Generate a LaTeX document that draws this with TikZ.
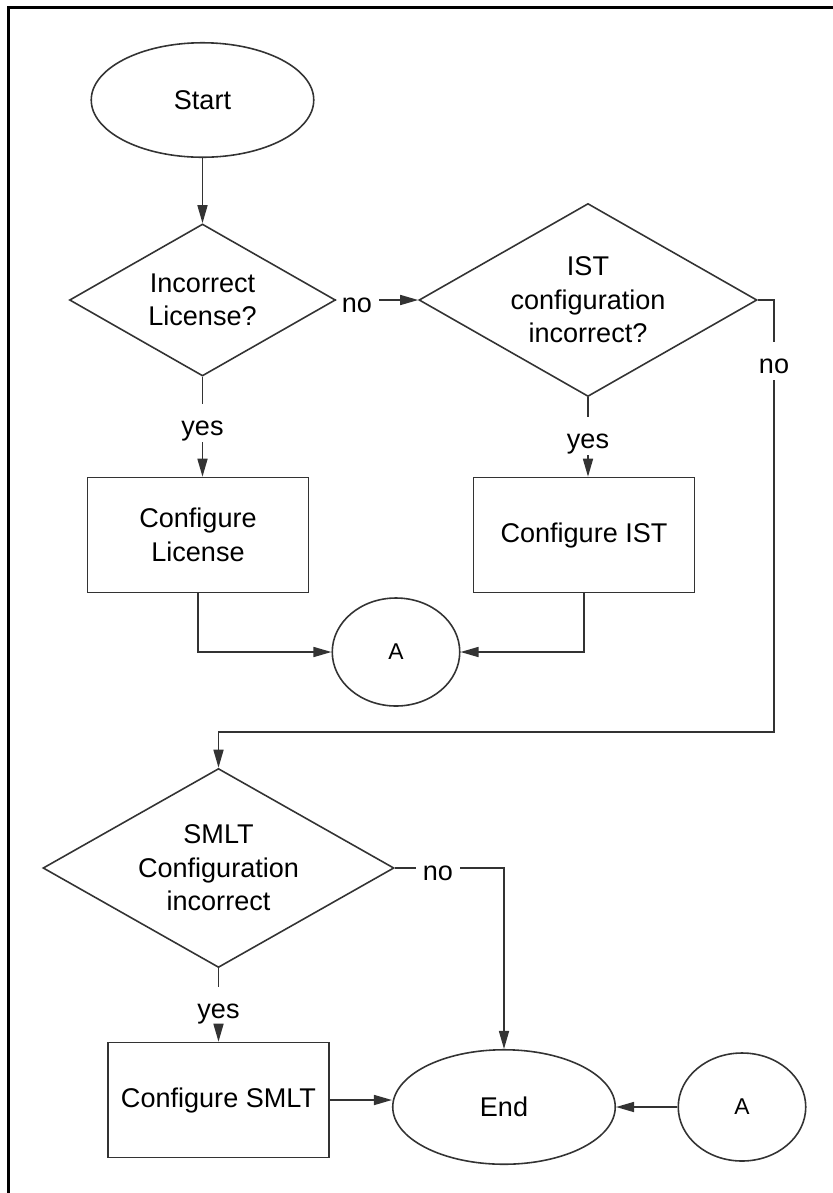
\documentclass[tikz,border=0pt]{standalone}
\usepackage{fontspec}
\setmainfont{Liberation Sans}
\usepackage{tikz}
\usetikzlibrary{shapes.geometric, arrows.meta, positioning, calc}
\tikzset{
  termnode/.style={ellipse, draw=black!80, line width=0.9pt, inner sep=0pt, minimum width=4.45cm, minimum height=2.29cm, align=center},
  connnode/.style={ellipse, draw=black!80, line width=0.9pt, inner sep=0pt, minimum width=2.55cm, minimum height=2.16cm, font=\fontsize{13pt}{15pt}\selectfont},
  decnode/.style={diamond, draw=black!80, line width=0.9pt, inner sep=0pt, align=center},
  procnode/.style={rectangle, draw=black!80, line width=0.9pt, inner sep=0pt, minimum width=4.42cm, minimum height=2.3cm, align=center},
  flowline/.style={line width=0.9pt, draw=black!80},
  flowarrow/.style={flowline, -{Triangle[length=0.36cm, width=0.2cm]}},
  branchlabel/.style={inner xsep=0.14cm, inner ysep=0.02cm, text height=0.6cm, text depth=0.12cm},
  framebar/.style={line width=0.06cm, draw=black}
}

\begin{document}
\begin{tikzpicture}[font=\fontsize{15.4pt}{19pt}\selectfont]
  \useasboundingbox (0,0) rectangle (16.66,-23.86);
  \draw[framebar] (0.17,-23.86) -- (0.17,-0.15) -- (16.66,-0.15);

  % upper part
  \node[termnode] at (4.05,-2.00) (start) {Start};
  \node[decnode, aspect=1.75, minimum width=5.32cm, minimum height=3.04cm]
    at (4.05,-6.00) (lic) {Incorrect\\License?};
  \node[decnode, aspect=1.75, minimum width=6.76cm, minimum height=3.86cm]
    at (11.76,-6.00) (ist) {IST\\configuration\\incorrect?};
  \node[procnode] at (3.96,-10.70) (cfglic) {Configure\\License};
  \node[procnode] at (11.68,-10.70) (cfgist) {Configure IST};
  \node[connnode] at (7.92,-13.04) (conA) {A};

  % lower part
  \node[decnode, aspect=1.76, minimum width=7.02cm, minimum height=3.98cm]
    at (4.37,-17.36) (smlt) {SMLT\\Configuration\\incorrect};
  \node[procnode] at (4.37,-22.00) (cfgsmlt) {Configure SMLT};
  \node[termnode] at (10.08,-22.14) (end) {End};
  \node[connnode] at (14.84,-22.14) (conB) {A};

  \node[branchlabel] at (7.14,-6.00) (nolic) {no};
  \node[branchlabel] at (4.05,-8.46) (yeslic) {yes};
  \node[branchlabel] at (11.76,-8.72) (yesist) {yes};
  \node[branchlabel] at (15.48,-7.22) (noist) {no};
  \node[branchlabel] at (8.76,-17.36) (nosmlt) {no};
  \node[branchlabel] at (4.37,-20.12) (yessmlt) {yes};
  \coordinate (turn) at (15.48,-14.64);

  \draw[flowarrow] (start) -- (lic);
  \draw[flowline] (lic.east) -- (nolic.west);
  \draw[flowarrow] (nolic.east) -- (ist.west);
  \draw[flowline] (lic.south) -- (yeslic.north);
  \draw[flowarrow] (yeslic.south) -- (yeslic.south |- cfglic.north);
  \draw[flowline] (ist.south) -- (yesist.north);
  \draw[flowarrow] (yesist.south) -- (yesist.south |- cfgist.north);
  \draw[flowline] (ist.east) -| (noist.north);
  \draw[flowarrow] (noist.south) -- (turn) -| (smlt.north);
  \draw[flowarrow] (cfglic.south) |- (conA.west);
  \draw[flowarrow] (cfgist.south) |- (conA.east);

  \draw[flowline] (smlt.east) -- (nosmlt.west);
  \draw[flowarrow] (nosmlt.east) -| (end.north);
  \draw[flowline] (smlt.south) -- (yessmlt.north);
  \draw[flowarrow] (yessmlt.south) -- (cfgsmlt.north);
  \draw[flowarrow] (cfgsmlt.east) -- (cfgsmlt.east -| end.west);
  \draw[flowarrow] (conB) -- (end);
\end{tikzpicture}
\end{document}
